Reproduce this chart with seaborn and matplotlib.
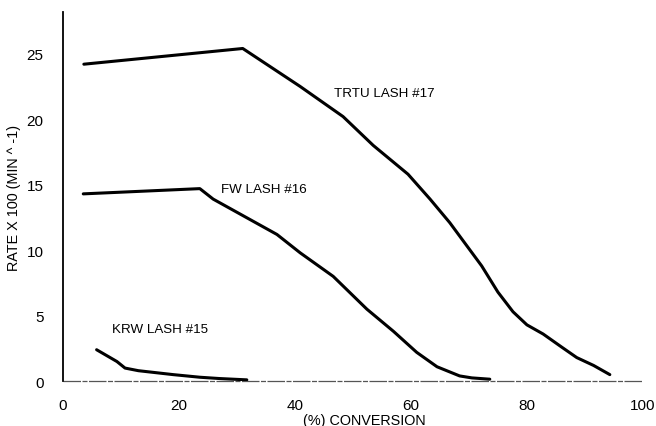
import matplotlib
matplotlib.use("Agg")
import matplotlib.pyplot as plt
import seaborn as sns
import pandas as pd

# TRTU LASH #17
trtu_x = [3.6, 31.0, 40.9, 48.3, 53.5, 59.5, 63.3, 66.7, 72.2, 75.0, 77.6, 80.0, 82.8, 86.0, 88.6, 91.5, 94.3]
trtu_y = [24.2, 25.4, 22.5, 20.2, 18.0, 15.8, 13.9, 12.1, 8.8, 6.8, 5.3, 4.3, 3.6, 2.6, 1.8, 1.2, 0.5]
# FW LASH #16
fw_x = [3.5, 23.6, 25.9, 36.9, 40.9, 46.6, 52.4, 57.0, 61.0, 64.5, 68.4, 70.5, 73.6]
fw_y = [14.3, 14.7, 13.9, 11.2, 9.8, 8.0, 5.5, 3.8, 2.2, 1.1, 0.4, 0.25, 0.15]
# KRW LASH #15
krw_x = [5.8, 9.3, 10.7, 13.0, 15.0, 19.0, 23.6, 27.0, 31.7]
krw_y = [2.4, 1.5, 1.0, 0.8, 0.7, 0.5, 0.3, 0.2, 0.1]

labels = ["TRTU LASH #17", "FW LASH #16", "KRW LASH #15"]
label_x = [46.8, 27.3, 8.4]
label_y = [22.0, 14.7, 4.0]

xticks = [0, 20, 40, 60, 80, 100]
yticks = [0, 5, 10, 15, 20, 25]

sns.set_theme(style="white")
plt.rcParams["font.family"] = ["Liberation Sans", "DejaVu Sans"]

df = pd.concat([
    pd.DataFrame({"x": trtu_x, "y": trtu_y, "s": labels[0]}),
    pd.DataFrame({"x": fw_x, "y": fw_y, "s": labels[1]}),
    pd.DataFrame({"x": krw_x, "y": krw_y, "s": labels[2]}),
])

fig = plt.figure(figsize=(6.56, 4.27), dpi=100)
ax = fig.add_axes([0.096, 0.105, 0.884, 0.865])
sns.lineplot(data=df, x="x", y="y", units="s", estimator=None, sort=False,
             color="black", linewidth=2.2, ax=ax, legend=False, zorder=3)

for t, lx, ly in zip(labels, label_x, label_y):
    ax.text(lx, ly, t, fontsize=9.6, color="black", va="center", ha="left")

ax.set_xlim(0, 100)
ax.set_ylim(0, 28.2)
ax.set_xticks(xticks)
ax.set_yticks(yticks)
ax.tick_params(axis="both", labelsize=11, colors="black", length=0, pad=12)
ax.tick_params(axis="y", pad=14)
for sp in ["top", "right", "bottom"]:
    ax.spines[sp].set_visible(False)
ax.spines["left"].set_color("black")
ax.spines["left"].set_linewidth(1.3)
ax.axhline(0, color="#555555", linewidth=0.9, linestyle=(0, (14, 1.2, 4, 1.2)), zorder=2, clip_on=False)

ax.set_xlabel("(%) CONVERSION", fontsize=10.4, color="black")
ax.xaxis.set_label_coords(0.52, -0.085)
ax.set_ylabel("RATE X 100 (MIN ^ -1)", fontsize=10.4, color="black")
ax.yaxis.set_label_coords(-0.072, 0.5)

fig.savefig("out.png", dpi=100)
